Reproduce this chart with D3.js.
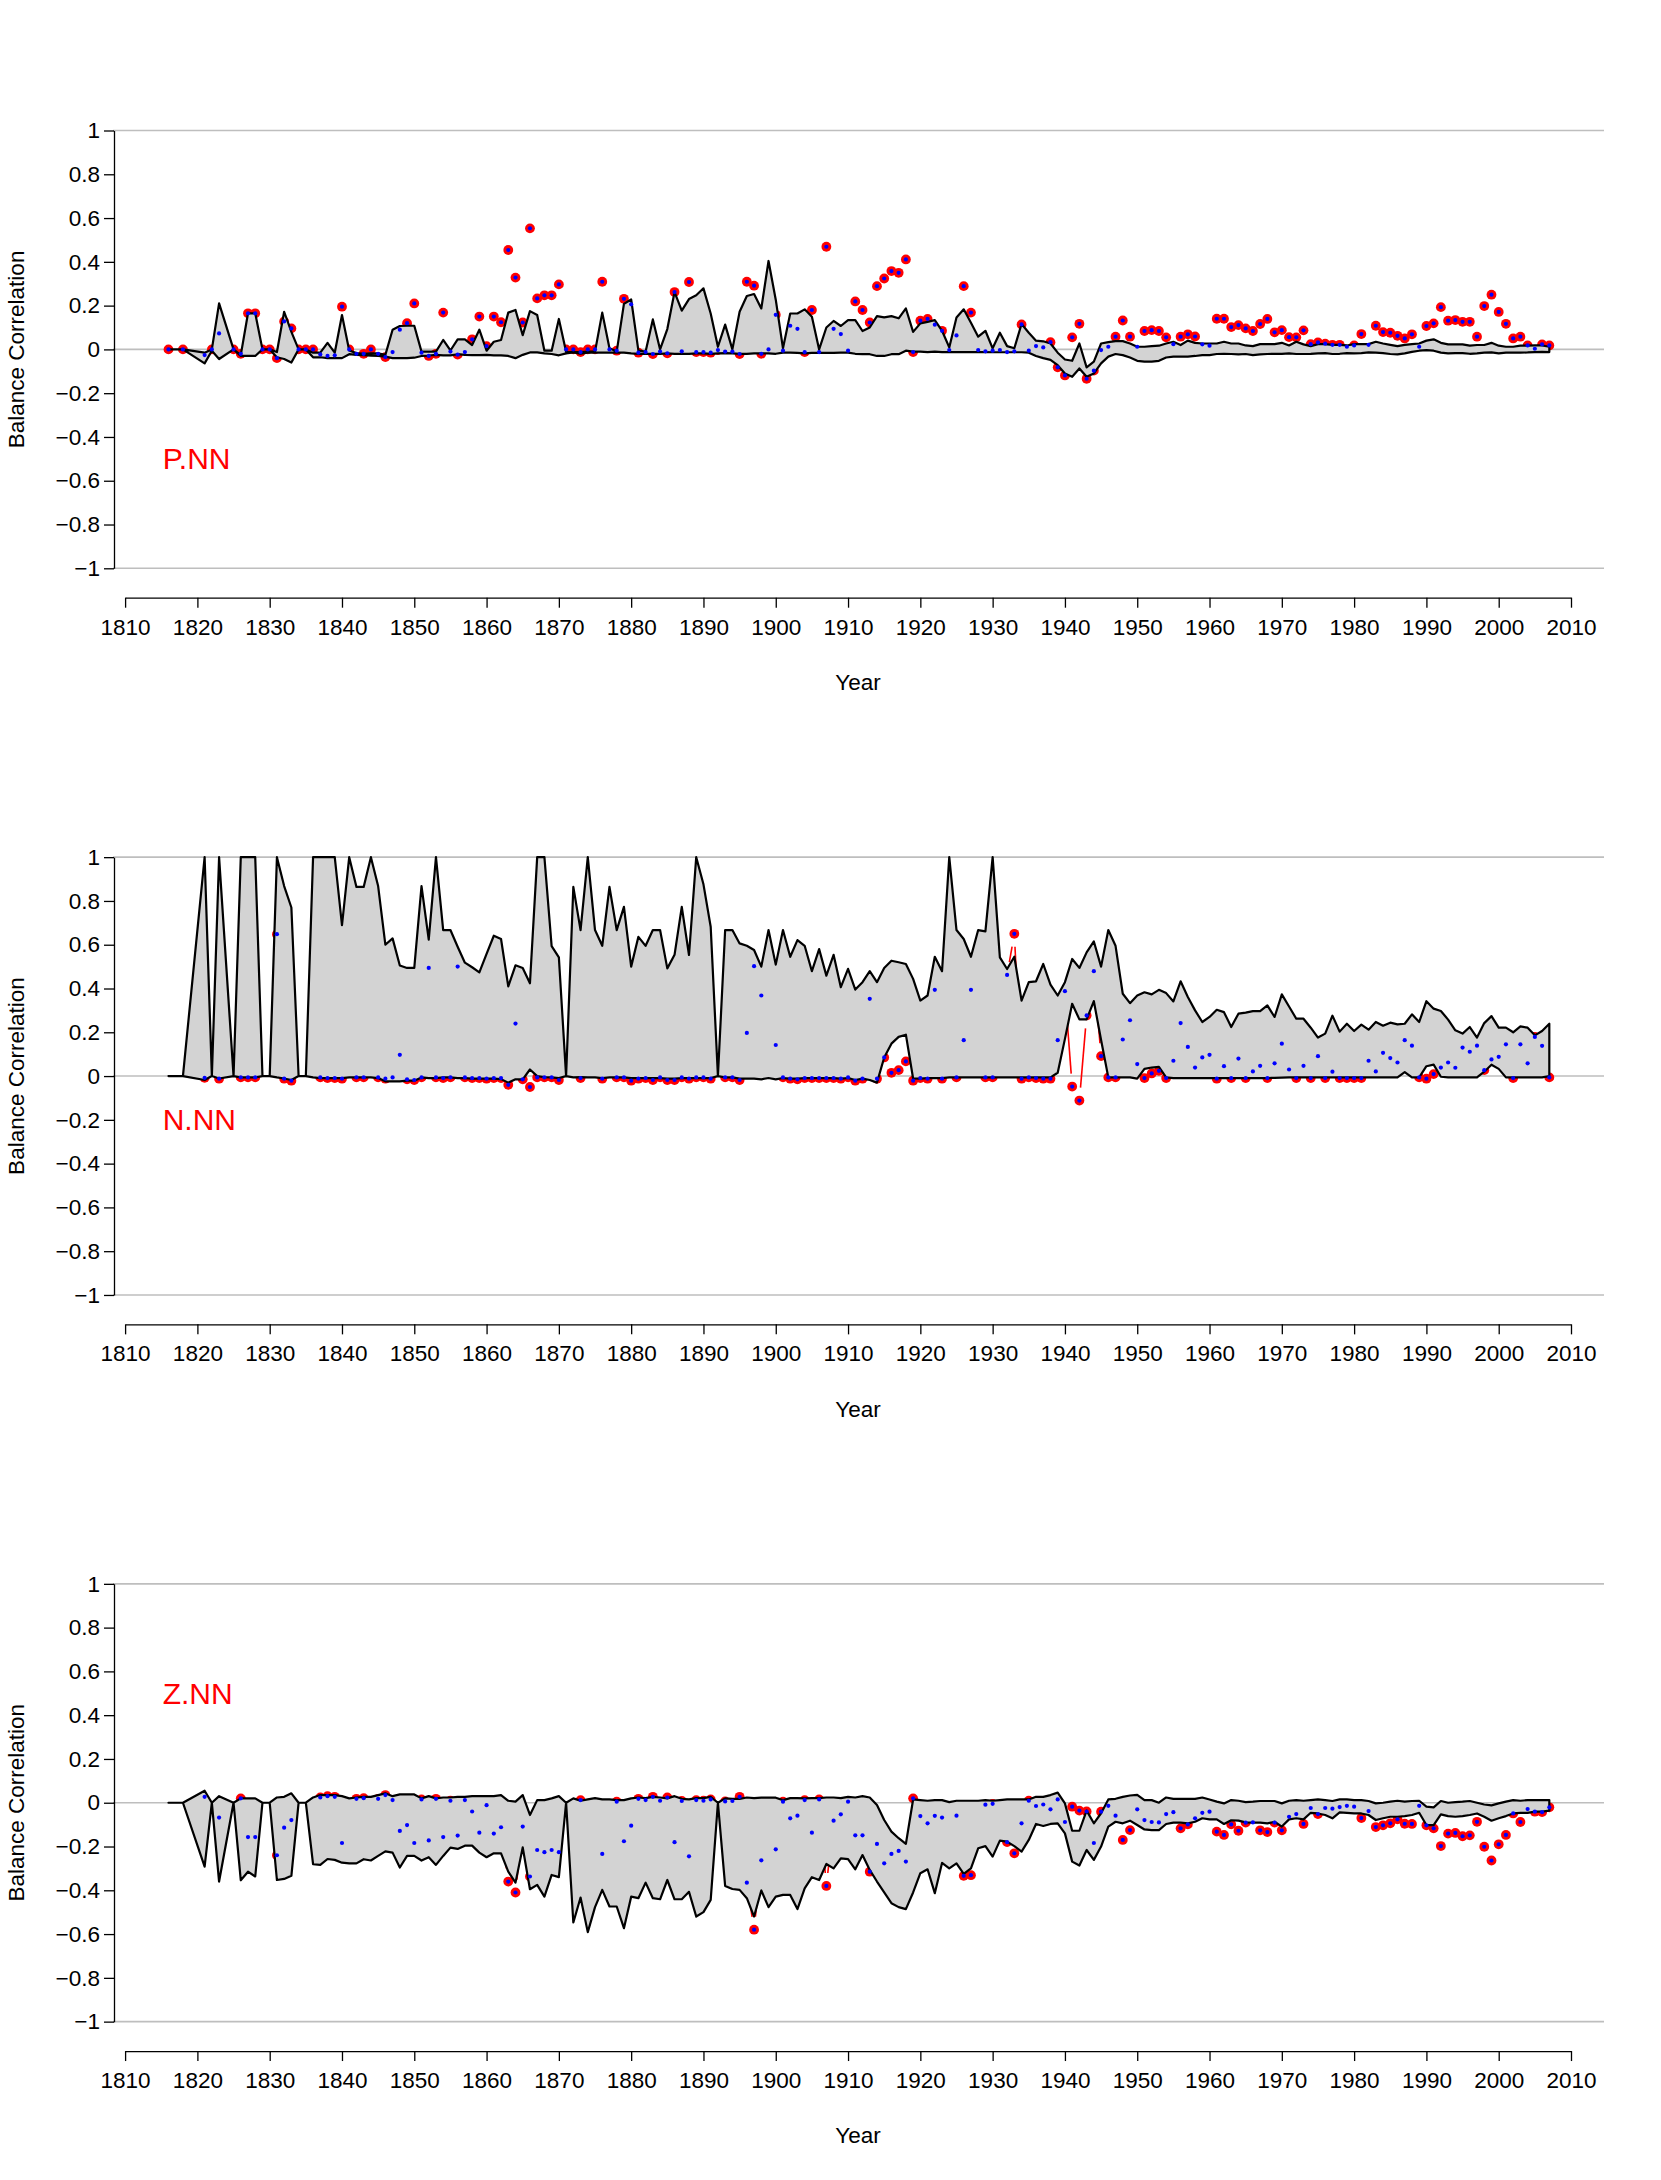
<!DOCTYPE html>
<html><head><meta charset="utf-8">
<script src="https://cdn.jsdelivr.net/npm/d3@7"></script>
<style>body{margin:0;background:#fff}svg{display:block}text{font-family:"Liberation Sans",Arial,Helvetica,sans-serif}</style>
</head><body>
<svg id="c" width="1661" height="2180"></svg>
<script>
// ---------- categories ----------
const years = [1816,1818,1821,1822,1823].concat(d3.range(1825,2008));
const xTicks = [1810,1820,1830,1840,1850,1860,1870,1880,1890,1900,1910,1920,1930,1940,1950,1960,1970,1980,1990,2000,2010];
const yTicks = [-1,-0.8,-0.6,-0.4,-0.2,0,0.2,0.4,0.6,0.8,1];

// ---------- P.NN ----------
const pVal = [0,0,-0.026,0,0.073,0,-0.02,0.165,0.165,0,
 0,-0.04,0.128,0.096,0,0,0,-0.023,-0.03,-0.027,
 0.195,0,-0.02,-0.02,0,-0.02,-0.035,-0.012,0.09,0.12,
 0.21,-0.015,-0.03,-0.02,0.168,-0.01,-0.024,-0.012,0.046,0.15,
 0.015,0.15,0.124,0.454,0.328,0.123,0.553,0.233,0.247,0.247,
 0.297,0,0,-0.012,0,0,0.309,0,-0.006,0.231,
 0.206,-0.015,-0.012,-0.021,-0.01,-0.018,0.262,-0.009,0.308,-0.012,
 -0.012,-0.015,-0.003,-0.01,-0.01,-0.021,0.309,0.291,-0.02,0,
 0.158,-0.006,0.108,0.094,-0.012,0.18,-0.012,0.469,0.094,0.07,
 -0.006,0.219,0.18,0.123,0.289,0.324,0.358,0.35,0.411,-0.012,
 0.131,0.139,0.113,0.085,-0.003,0.064,0.289,0.168,-0.003,-0.009,
 -0.006,-0.003,-0.012,-0.009,0.114,-0.006,0.015,0.009,0.033,-0.082,
 -0.119,0.055,0.117,-0.134,-0.097,-0.003,0.012,0.058,0.132,0.058,
 0.012,0.084,0.088,0.084,0.055,0.024,0.058,0.069,0.059,0.023,
 0.017,0.14,0.14,0.102,0.111,0.096,0.084,0.116,0.139,0.078,
 0.088,0.056,0.055,0.087,0.024,0.032,0.026,0.021,0.021,0.012,
 0.018,0.07,0.021,0.108,0.079,0.076,0.062,0.05,0.069,0.012,
 0.107,0.119,0.193,0.131,0.134,0.126,0.126,0.058,0.198,0.25,
 0.171,0.117,0.05,0.058,0.018,0.003,0.023,0.018];
const pUp = [0,0,-0.015,0,0.21,0,-0.026,0.165,0.165,0,
 0,-0.012,0.172,0.08,0,0,-0.015,-0.015,0.03,-0.015,
 0.157,-0.005,-0.017,-0.02,-0.018,-0.018,-0.025,0.09,0.107,0.108,
 0.108,-0.01,-0.01,-0.01,0.043,-0.005,0.046,0.046,0.02,0.09,
 -0.006,0.035,0.043,0.168,0.18,0.065,0.175,0.157,-0.006,-0.006,
 0.139,-0.011,-0.012,-0.012,-0.01,-0.01,0.168,0.005,-0.01,0.208,
 0.228,-0.006,-0.01,0.137,0,0.093,0.262,0.177,0.23,0.247,
 0.279,0.164,0.012,0.113,0,0.172,0.244,0.253,0.187,0.404,
 0.227,0.005,0.164,0.164,0.183,0.149,0,0.1,0.13,0.107,
 0.134,0.134,0.084,0.1,0.152,0.146,0.152,0.142,0.187,0.08,
 0.119,0.126,0.134,0.085,0.009,0.146,0.183,0.122,0.058,0.085,
 0.005,0.076,0.015,0.005,0.116,0.076,0.04,0.037,0.027,-0.015,
 -0.046,-0.052,0.027,-0.082,-0.056,0.027,0.033,0.038,0.038,0.027,
 0.012,0.012,0.015,0.017,0.027,0.035,0.02,0.04,0.03,0.027,
 0.027,0.027,0.035,0.027,0.027,0.018,0.015,0.024,0.024,0.024,
 0.03,0.018,0.035,0.023,0.015,0.024,0.024,0.021,0.021,0.018,
 0.024,0.024,0.024,0.035,0.027,0.021,0.015,0.021,0.024,0.027,
 0.04,0.046,0.03,0.023,0.023,0.023,0.017,0.02,0.02,0.03,
 0.017,0.012,0.012,0.017,0.017,0.018,0.018,0.012];
const pLo = [0,0,-0.064,-0.006,-0.044,0,-0.03,-0.03,-0.03,0,
 0,-0.036,-0.044,-0.06,0,0,-0.036,-0.036,-0.04,-0.04,
 -0.04,-0.022,-0.025,-0.026,-0.028,-0.03,-0.033,-0.04,-0.04,-0.04,
 -0.038,-0.03,-0.028,-0.025,-0.027,-0.027,-0.022,-0.025,-0.026,-0.026,
 -0.025,-0.027,-0.027,-0.03,-0.04,-0.025,-0.014,-0.014,-0.018,-0.021,
 -0.027,-0.018,-0.014,-0.02,-0.015,-0.015,-0.015,-0.015,-0.015,-0.015,
 -0.018,-0.02,-0.02,-0.02,-0.02,-0.018,-0.02,-0.02,-0.02,-0.018,
 -0.018,-0.02,-0.018,-0.017,-0.018,-0.02,-0.02,-0.018,-0.018,-0.018,
 -0.02,-0.015,-0.015,-0.016,-0.018,-0.016,-0.016,-0.016,-0.016,-0.015,
 -0.015,-0.02,-0.022,-0.022,-0.03,-0.03,-0.022,-0.022,-0.006,-0.01,
 -0.01,-0.012,-0.01,-0.012,-0.012,-0.012,-0.012,-0.012,-0.012,-0.012,
 -0.013,-0.013,-0.013,-0.013,-0.013,-0.015,-0.03,-0.04,-0.048,-0.072,
 -0.11,-0.125,-0.087,-0.125,-0.11,-0.064,-0.033,-0.021,-0.026,-0.037,
 -0.052,-0.056,-0.056,-0.052,-0.037,-0.033,-0.033,-0.033,-0.03,-0.026,
 -0.026,-0.021,-0.02,-0.021,-0.023,-0.021,-0.026,-0.023,-0.021,-0.02,
 -0.02,-0.018,-0.021,-0.021,-0.02,-0.018,-0.017,-0.021,-0.02,-0.017,
 -0.018,-0.017,-0.014,-0.015,-0.017,-0.021,-0.023,-0.018,-0.011,-0.006,
 -0.003,-0.006,-0.015,-0.018,-0.017,-0.017,-0.02,-0.018,-0.015,-0.014,
 -0.018,-0.015,-0.015,-0.015,-0.014,-0.012,-0.011,-0.012];
const pSig = [1816,1818,1822,1825,1826,1827,1828,1829,1830,1831,1832,1833,1834,1835,1836,1840,1841,1843,1844,1846,1849,1850,1852,1853,1854,1856,1858,1859,1860,1861,1862,1863,1864,1865,1866,1867,1868,1869,1870,1871,1872,1873,1874,1875,1876,1878,1879,1881,1883,1885,1886,1888,1889,1890,1891,1892,1895,1896,1897,1898,1900,1904,1905,1907,1911,1912,1913,1914,1915,1916,1917,1918,1919,1920,1921,1923,1926,1927,1934,1938,1939,1940,1941,1942,1943,1944,1947,1948,1949,1951,1952,1953,1954,1956,1957,1958,1961,1962,1963,1964,1965,1966,1967,1968,1969,1970,1971,1972,1973,1974,1975,1976,1977,1978,1980,1981,1983,1984,1985,1986,1987,1988,1990,1991,1992,1993,1994,1995,1996,1997,1998,1999,2000,2001,2002,2003,2004,2006,2007];

// ---------- N.NN ----------
const nVal = [null,null,-0.008,null,-0.012,null,-0.006,-0.006,-0.006,null,
 null,0.648,-0.012,-0.021,null,null,null,-0.006,-0.009,-0.009,
 -0.012,null,-0.006,-0.006,null,-0.006,-0.012,-0.006,0.097,-0.015,
 -0.018,-0.006,0.494,-0.006,-0.009,-0.006,0.5,-0.006,-0.009,-0.009,
 -0.012,-0.009,-0.009,-0.04,0.24,-0.015,-0.05,-0.006,-0.006,-0.006,
 -0.018,null,null,-0.009,null,null,-0.012,null,-0.006,-0.006,
 -0.021,-0.012,-0.009,-0.018,-0.006,-0.018,-0.018,-0.006,-0.012,-0.006,
 -0.006,-0.012,null,-0.006,-0.006,-0.018,0.197,0.502,0.368,null,
 0.142,-0.006,-0.012,-0.015,-0.009,-0.009,-0.009,-0.009,-0.009,-0.012,
 -0.006,-0.021,-0.012,0.353,-0.012,0.085,0.015,0.027,0.067,-0.021,
 -0.009,-0.012,0.394,-0.012,null,-0.006,0.164,0.394,null,-0.006,
 -0.006,null,0.462,0.65,-0.012,-0.006,-0.009,-0.012,-0.012,0.164,
 0.388,-0.048,-0.112,0.277,0.479,0.091,-0.006,-0.006,0.167,0.255,
 0.055,-0.009,0.012,0.024,-0.009,0.07,0.242,0.133,0.039,0.085,
 0.097,-0.012,0.045,-0.009,0.08,-0.009,0.021,0.047,-0.009,0.058,
 0.148,0.03,-0.009,0.047,-0.009,0.091,-0.009,0.02,-0.009,-0.009,
 -0.009,-0.009,0.07,0.021,0.106,0.082,0.062,0.164,0.139,-0.006,
 -0.012,0.009,0.039,0.062,0.038,0.13,0.111,0.139,0.027,0.076,
 0.088,0.145,-0.009,0.145,0.058,0.179,0.138,-0.006];
const nUp = [0,0,1,0,1,0,1,1,1,0,
 0,1,0.868,0.77,0,0,1,1,1,1,
 0.689,1,0.864,0.864,1,0.868,0.6,0.629,0.505,0.494,
 0.494,0.868,0.623,1,0.667,0.667,0.591,0.518,0.497,0.474,
 0.558,0.641,0.626,0.41,0.506,0.494,0.424,1,1,0.594,
 0.542,0,0.864,0.667,1,0.667,0.595,0.864,0.667,0.773,
 0.5,0.636,0.595,0.667,0.667,0.492,0.554,0.773,0.553,1,
 0.876,0.682,0,0.667,0.667,0.606,0.595,0.576,0.5,0.667,
 0.509,0.667,0.545,0.621,0.595,0.479,0.58,0.459,0.554,0.406,
 0.49,0.395,0.429,0.479,0.429,0.494,0.527,0.52,0.512,0.444,
 0.345,0.368,0.545,0.479,1,0.667,0.626,0.545,0.667,0.661,
 1,0.542,0.489,0.545,0.345,0.429,0.433,0.512,0.418,0.368,
 0.429,0.535,0.494,0.565,0.615,0.5,0.667,0.595,0.376,0.333,
 0.368,0.383,0.373,0.394,0.379,0.341,0.433,0.361,0.3,0.247,
 0.27,0.303,0.292,0.224,0.285,0.29,0.297,0.297,0.323,0.27,
 0.373,0.318,0.262,0.262,0.221,0.176,0.194,0.276,0.203,0.239,
 0.206,0.235,0.212,0.247,0.23,0.244,0.236,0.239,0.282,0.247,
 0.342,0.308,0.297,0.258,0.209,0.194,0.224,0.176,0.242,0.274,
 0.221,0.221,0.2,0.227,0.221,0.186,0.206,0.239];
const nLo = [0,0,-0.018,0,-0.011,0,-0.006,-0.006,-0.006,0,
 0,-0.006,-0.011,-0.018,0,0,-0.006,-0.009,-0.009,-0.009,
 -0.009,-0.006,-0.006,-0.006,-0.006,-0.009,-0.024,-0.024,-0.024,-0.021,
 -0.021,-0.006,-0.009,-0.009,-0.006,-0.006,-0.009,-0.009,-0.012,-0.012,
 -0.012,-0.012,-0.014,-0.03,-0.015,-0.015,0.03,0,-0.005,-0.006,
 -0.009,0,-0.006,-0.005,-0.006,-0.006,-0.009,-0.006,-0.006,-0.006,
 -0.009,-0.009,-0.009,-0.009,-0.009,-0.012,-0.012,-0.009,-0.009,-0.009,
 -0.009,-0.009,0,-0.006,-0.006,-0.012,-0.012,-0.012,-0.015,-0.009,
 -0.015,-0.009,-0.012,-0.012,-0.009,-0.009,-0.009,-0.009,-0.009,-0.012,
 -0.009,-0.018,-0.012,-0.018,-0.03,0.085,0.148,0.179,0.189,-0.011,
 -0.012,-0.009,-0.009,-0.009,-0.006,-0.006,-0.006,-0.006,-0.006,-0.006,
 -0.006,-0.006,-0.006,-0.006,-0.006,-0.006,-0.006,-0.006,-0.006,0.015,
 0.17,0.33,0.259,0.259,0.342,0.165,-0.006,-0.006,-0.006,-0.006,
 -0.012,0.033,0.039,0.042,-0.006,-0.009,-0.009,-0.009,-0.009,-0.009,
 -0.009,-0.009,-0.009,-0.009,-0.009,-0.009,-0.009,-0.009,-0.009,-0.008,
 -0.007,-0.006,-0.006,-0.006,-0.006,-0.006,-0.006,-0.006,-0.006,-0.006,
 -0.006,-0.006,-0.006,-0.006,-0.006,-0.006,-0.006,0.018,-0.006,-0.006,
 0.045,0.052,-0.003,-0.006,-0.006,-0.006,-0.006,-0.006,0.02,0.052,
 0.033,-0.006,-0.006,-0.006,-0.006,-0.006,-0.006,0];
const nSig = [1821,1823,1826,1827,1828,1831,1832,1833,1837,1838,1839,1840,1842,1843,1845,1846,1849,1850,1851,1853,1854,1855,1857,1858,1859,1860,1861,1862,1863,1865,1866,1867,1868,1869,1870,1873,1876,1878,1879,1880,1881,1882,1883,1884,1885,1886,1887,1888,1889,1890,1891,1893,1894,1895,1901,1902,1903,1904,1905,1906,1907,1908,1909,1910,1911,1912,1914,1915,1916,1917,1918,1919,1920,1921,1923,1925,1929,1930,1933,1934,1935,1936,1937,1938,1941,1942,1943,1945,1946,1947,1951,1952,1953,1954,1961,1963,1965,1968,1972,1974,1976,1978,1979,1980,1981,1989,1990,1991,1998,2002,2005,2007];

// ---------- Z.NN ----------
const zVal = [null,null,0.027,null,-0.068,null,0.02,-0.157,-0.157,null,
 null,-0.24,-0.114,-0.079,null,null,null,0.024,0.03,0.027,
 -0.184,null,0.018,0.021,null,0.018,0.035,0.012,-0.129,-0.102,
 -0.184,0.015,-0.172,0.018,-0.157,0.009,-0.15,0.012,-0.04,-0.137,
 -0.011,-0.141,-0.112,-0.36,-0.41,-0.109,-0.337,-0.216,-0.226,-0.216,
 -0.226,null,null,0.012,null,null,-0.234,null,0.005,-0.176,
 -0.105,0.018,0.012,0.027,0.009,0.024,-0.18,0.008,-0.245,0.012,
 0.009,0.015,null,0.006,0.008,0.027,-0.365,-0.58,-0.263,null,
 -0.213,0.005,-0.071,-0.059,0.012,-0.137,0.015,-0.38,-0.082,-0.053,
 0.005,-0.149,-0.149,-0.315,-0.188,-0.277,-0.234,-0.22,-0.269,0.02,
 -0.061,-0.094,-0.06,-0.068,null,-0.059,-0.334,-0.331,null,-0.009,
 -0.005,null,-0.18,-0.231,-0.094,0.009,-0.015,-0.008,-0.03,0.015,
 -0.088,-0.018,-0.036,-0.04,-0.184,-0.041,-0.014,-0.059,-0.17,-0.125,
 -0.03,-0.079,-0.088,-0.09,-0.052,-0.043,-0.117,-0.099,-0.071,-0.046,
 -0.041,-0.132,-0.147,-0.099,-0.128,-0.091,-0.09,-0.126,-0.134,-0.091,
 -0.126,-0.064,-0.052,-0.097,-0.024,-0.052,-0.024,-0.027,-0.02,-0.014,
 -0.018,-0.07,-0.038,-0.111,-0.103,-0.094,-0.076,-0.096,-0.097,-0.014,
 -0.103,-0.117,-0.198,-0.141,-0.138,-0.153,-0.149,-0.087,-0.201,-0.264,
 -0.19,-0.147,-0.049,-0.088,-0.029,-0.041,-0.043,-0.021];
const zUp = [0,0,0.055,0,0.03,0,0.02,0.02,0.02,0,
 0,0.024,0.027,0.043,0,0,0.024,0.035,0.035,0.035,
 0.03,0.02,0.024,0.027,0.027,0.035,0.043,0.03,0.038,0.038,
 0.038,0.02,0.03,0.02,0.024,0.024,0.027,0.027,0.03,0.03,
 0.03,0.03,0.035,0.009,0.005,0.035,-0.056,0.012,0.012,0.02,
 0.03,0,0.02,0.009,0.015,0.021,0.015,0.015,0.012,0.012,
 0.02,0.024,0.021,0.027,0.024,0.02,0.03,0.018,0.015,0.021,
 0.021,0.027,0,0.02,0.018,0.018,0.024,0.021,0.023,0.023,
 0.023,0.012,0.021,0.021,0.02,0.021,0.021,0.024,0.024,0.021,
 0.027,0.024,0.03,0.024,-0.01,-0.079,-0.132,-0.162,-0.188,0.015,
 0.012,0.009,0.012,0.012,0.003,0.009,0.009,0.009,0.009,0.012,
 0.009,0.012,0.015,0.015,0.015,0.015,0.027,0.027,0.035,0.046,
 -0.003,-0.128,-0.128,-0.036,-0.094,-0.048,0.015,0.018,0.027,0.033,
 0.036,0.012,0.012,0,0.024,0.018,0.018,0.018,0.018,0.024,
 0.015,0.005,-0.003,0.012,0.009,0.003,0.005,0.008,0.008,0.008,
 -0.003,0.009,0.012,0.009,0.012,0.015,0.012,0.008,0.015,0.015,
 0.012,0.012,0.008,-0.003,0,0.005,0.009,0.005,0.008,0.009,
 -0.018,-0.021,0.008,0,0.003,0.005,0.008,0,-0.008,-0.012,
 -0.003,0.005,0.012,0.009,0.012,0.012,0.012,0.012];
const zLo = [0,0,-0.292,0,-0.36,0,-0.354,-0.315,-0.337,0,
 0,-0.353,-0.348,-0.334,0,0,-0.281,-0.284,-0.257,-0.261,
 -0.274,-0.277,-0.277,-0.258,-0.264,-0.243,-0.222,-0.228,-0.296,-0.243,
 -0.243,-0.264,-0.249,-0.284,-0.243,-0.205,-0.211,-0.196,-0.196,-0.228,
 -0.249,-0.231,-0.231,-0.315,-0.365,-0.204,-0.395,-0.375,-0.429,-0.33,
 -0.34,0,-0.547,-0.433,-0.591,-0.477,-0.398,-0.474,-0.474,-0.573,
 -0.429,-0.436,-0.365,-0.436,-0.441,-0.353,-0.441,-0.441,-0.407,-0.52,
 -0.5,-0.444,0,-0.38,-0.394,-0.398,-0.436,-0.52,-0.401,-0.477,
 -0.429,-0.421,-0.421,-0.486,-0.391,-0.34,-0.353,-0.28,-0.3,-0.254,
 -0.258,-0.304,-0.239,-0.307,-0.36,-0.41,-0.459,-0.477,-0.486,-0.41,
 -0.322,-0.304,-0.413,-0.275,-0.3,-0.277,-0.325,-0.3,-0.208,-0.198,
 -0.246,-0.173,-0.178,-0.198,-0.223,-0.17,-0.097,-0.106,-0.097,-0.094,
 -0.14,-0.269,-0.287,-0.216,-0.261,-0.2,-0.109,-0.087,-0.094,-0.082,
 -0.102,-0.122,-0.125,-0.125,-0.097,-0.091,-0.091,-0.094,-0.087,-0.071,
 -0.076,-0.076,-0.097,-0.08,-0.082,-0.09,-0.091,-0.091,-0.094,-0.087,
 -0.109,-0.076,-0.071,-0.076,-0.046,-0.049,-0.056,-0.071,-0.044,-0.046,
 -0.049,-0.049,-0.056,-0.079,-0.071,-0.064,-0.064,-0.061,-0.056,-0.046,
 -0.102,-0.102,-0.053,-0.061,-0.064,-0.061,-0.056,-0.049,-0.064,-0.082,
 -0.071,-0.061,-0.049,-0.046,-0.046,-0.041,-0.041,-0.036];
const zSig = [1826,1831,1837,1838,1839,1842,1843,1845,1846,1851,1853,1855,1863,1864,1866,1873,1878,1881,1883,1885,1887,1889,1890,1891,1893,1895,1897,1901,1904,1906,1907,1913,1919,1926,1927,1929,1930,1932,1933,1935,1941,1942,1943,1945,1948,1949,1956,1957,1961,1962,1963,1964,1965,1967,1968,1969,1970,1973,1975,1981,1983,1984,1985,1986,1987,1988,1990,1991,1992,1993,1994,1995,1996,1997,1998,1999,2000,2001,2002,2003,2005,2006,2007];

const panelNames = ["P.NN","N.NN","Z.NN"];
const panelLabelAt = [-0.5,-0.2,0.5];

// ---------- drawing ----------
const panels = [
  {name:panelNames[0], val:pVal, up:pUp, lo:pLo, sig:pSig, labelY:panelLabelAt[0], redLine:false},
  {name:panelNames[1], val:nVal, up:nUp, lo:nLo, sig:nSig, labelY:panelLabelAt[1], redLine:true},
  {name:panelNames[2], val:zVal, up:zUp, lo:zLo, sig:zSig, labelY:panelLabelAt[2], redLine:true}
];
const svg = d3.select("#c");
const x = d3.scaleLinear().domain([1810,2010]).range([125.1,1571]);
const PH = 2180/3;
const fmtY = d => d3.format("~g")(Math.round(d*10)/10);
const FS = 22.5;

panels.forEach((p,i)=>{
  const top = i*PH;
  const y = d3.scaleLinear().domain([-1,1]).range([top+568.3, top+130.5]);
  const g = svg.append("g");
  const rows = years.map((yr,k)=>({year:yr, v:p.val[k], up:p.up[k], lo:p.lo[k], sig:p.sig.includes(yr)}));

  // reference lines
  yTicks.filter(v=>Math.abs(v)===1||v===0).forEach(v=>{
    g.append("line").attr("x1",113).attr("x2",1604).attr("y1",y(v)).attr("y2",y(v))
      .attr("stroke","#bebebe").attr("stroke-width",1.6);
  });

  // red connecting line (type "b", gaps around points)
  if (p.redLine){
    const gap = 13;
    for (let k=0;k<rows.length-1;k++){
      const a=rows[k], b=rows[k+1];
      if (a.v==null||b.v==null) continue;
      const x1=x(a.year), y1=y(a.v), x2=x(b.year), y2=y(b.v);
      const L=Math.hypot(x2-x1,y2-y1);
      if (L<=2*gap) continue;
      const ux=(x2-x1)/L, uy=(y2-y1)/L;
      g.append("line").attr("x1",x1+ux*gap).attr("y1",y1+uy*gap).attr("x2",x2-ux*gap).attr("y2",y2-uy*gap)
        .attr("stroke","#ff0000").attr("stroke-width",1.6);
    }
  }

  // red circles
  g.append("g").selectAll("circle").data(rows.filter(d=>d.sig&&d.v!=null)).join("circle")
    .attr("cx",d=>x(d.year)).attr("cy",d=>y(d.v)).attr("r",4.9).attr("fill","#ff0000");

  // band polygon
  const area = d3.area().x(d=>x(d.year)).y0(d=>y(d.lo)).y1(d=>y(d.up));
  g.append("path").attr("d",area(rows)+"").attr("fill","#d3d3d3").attr("stroke","#000")
    .attr("stroke-width",2.2).attr("stroke-linejoin","round");

  // blue points
  g.append("g").selectAll("circle").data(rows.filter(d=>d.v!=null)).join("circle")
    .attr("cx",d=>x(d.year)).attr("cy",d=>y(d.v)).attr("r",2.1).attr("fill","#0000ff");

  // axes
  const ya = g.append("g").attr("transform","translate(114,0)")
    .call(d3.axisLeft(y).tickValues(yTicks).tickFormat(fmtY).tickSize(10).tickSizeOuter(0).tickPadding(4));
  const xa = g.append("g").attr("transform",`translate(0,${top+597.7})`)
    .call(d3.axisBottom(x).tickValues(xTicks).tickFormat(d3.format("d")).tickSize(10).tickSizeOuter(0).tickPadding(11));
  [ya,xa].forEach(a=>{
    a.attr("font-size",null).attr("font-family",null);
    a.selectAll("path,line").attr("stroke","#000").attr("stroke-width",1.3);
    a.selectAll("text").attr("font-size",FS).attr("fill","#000");
  });

  // titles
  g.append("text").attr("x",858).attr("y",top+690).attr("text-anchor","middle").attr("font-size",FS).text("Year");
  g.append("text").attr("transform",`translate(24,${top+349.4}) rotate(-90)`).attr("text-anchor","middle")
    .attr("font-size",FS).text("Balance Correlation");
  g.append("text").attr("x",x(1815.2)).attr("y",y(p.labelY)+10.5).attr("font-size",30).attr("fill","#ff0000").text(p.name);
});
</script>
</body></html>
